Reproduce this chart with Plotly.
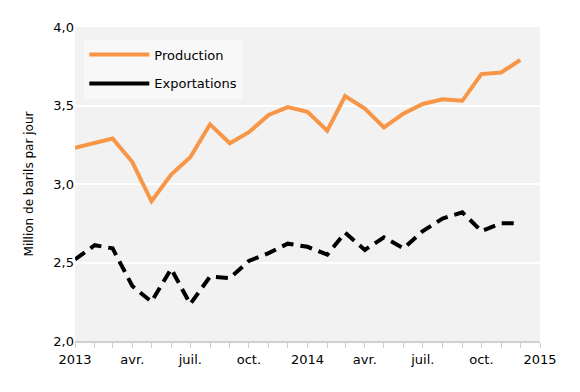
import plotly.graph_objects as go

months = ["2013-01", "2013-02", "2013-03", "2013-04", "2013-05", "2013-06",
          "2013-07", "2013-08", "2013-09", "2013-10", "2013-11", "2013-12",
          "2014-01", "2014-02", "2014-03", "2014-04", "2014-05", "2014-06",
          "2014-07", "2014-08", "2014-09", "2014-10", "2014-11", "2014-12"]
production = [3.23, 3.26, 3.29, 3.14, 2.89, 3.06, 3.17, 3.38, 3.26, 3.33, 3.44, 3.49,
              3.46, 3.34, 3.56, 3.48, 3.36, 3.45, 3.51, 3.54, 3.53, 3.70, 3.71, 3.79]
exportations = [2.52, 2.61, 2.59, 2.35, 2.25, 2.46, 2.235, 2.41, 2.40, 2.51, 2.56, 2.62,
                2.60, 2.55, 2.69, 2.58, 2.66, 2.59, 2.70, 2.78, 2.82, 2.70, 2.75, 2.75]
tick_dates = ["2013-01-01", "2013-04-01", "2013-07-01", "2013-10-01", "2014-01-01",
              "2014-04-01", "2014-07-01", "2014-10-01", "2015-01-01"]
tick_labels = ["2013", "avr.", "juil.", "oct.", "2014", "avr.", "juil.", "oct.", "2015"]

orange = "#F79646"
font = "'DejaVu Sans', sans-serif"

fig = go.Figure()
fig.add_trace(go.Scatter(x=months, y=production, mode="lines", name="Production",
                         legendgroup="p", line=dict(color=orange, width=4)))
fig.add_trace(go.Scatter(x=months, y=exportations, mode="lines", name="Exportations",
                         showlegend=False, line=dict(color="black", width=4, dash="12px,7px")))
# legend shows a solid black sample
fig.add_trace(go.Scatter(x=[None], y=[None], mode="lines", name="Exportations",
                         legendgroup="e", line=dict(color="black", width=4)))

fig.update_layout(
    width=580, height=392,
    margin=dict(l=67, r=48, t=17, b=59),
    paper_bgcolor="white", plot_bgcolor="#F2F2F2",
    separators=", ",
    font=dict(family=font, size=13, color="black"),
    showlegend=True,
    legend=dict(x=0.02, y=0.96, xanchor="left", yanchor="top",
                bgcolor="#F8F8F8", font=dict(size=13),
                traceorder="grouped", tracegroupgap=9,
                itemwidth=60),
)
fig.update_xaxes(
    type="date", range=["2013-01-01", "2015-01-01"],
    tickvals=tick_dates, ticktext=tick_labels,
    ticks="outside", ticklen=5, tickcolor="#D0D0D0",
    minor=dict(dtick="M1", ticks="outside", ticklen=5, tickcolor="#D0D0D0"),
    showline=True, linecolor="#D0D0D0", linewidth=2,
    showgrid=False, tickfont=dict(size=13),
)
fig.update_yaxes(
    range=[2, 4], dtick=0.5, tickformat=".1f",
    showgrid=True, gridcolor="white", gridwidth=2,
    zeroline=False, showline=False, ticks="",
    title=dict(text="Million de barils par jour", font=dict(size=12), standoff=17),
    tickfont=dict(size=13),
)

fig.write_html("out.html")
